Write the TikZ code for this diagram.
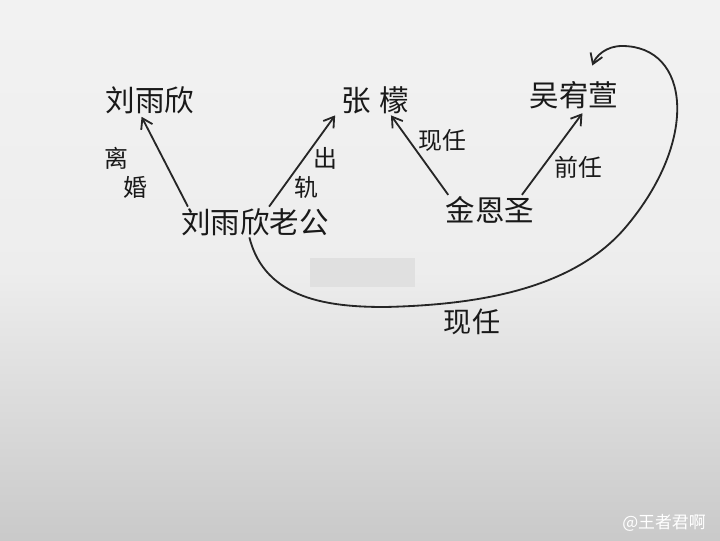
\documentclass[tikz,border=0pt]{standalone}
\usepackage{fontspec}
\setmainfont{Noto Sans CJK SC}
\usetikzlibrary{positioning,calc,arrows.meta}

\tikzset{
    person/.style={inner sep=1pt, font=\fontsize{21}{24}\selectfont, text=black!90},
    tag/.style={inner sep=1pt, font=\fontsize{17}{21}\selectfont, text=black!90},
    arr/.style={line width=1.3pt, draw=black!85, -{Straight Barb[length=7pt,width=9pt]}}
}

\begin{document}
\begin{tikzpicture}[x=0.025cm, y=-0.025cm]
    % paper
    \shade[top color=gray!10, bottom color=gray!42, middle color=gray!14] (0,0) rectangle (720,540);
    \useasboundingbox (0,0) rectangle (720,540);
    \fill[gray!24] (310,258) rectangle (415,287);

    % people
    \node[person] (lyx) at (150,100) {刘雨欣};
    \node[person] (zm) at (375,100) {张\hspace{0.3em}檬};
    \node[person] (wyx) at (574,95) {吴宥萱};
    \node[person] (husband) at (255,222) {刘雨欣老公};
    \node[person] (jes) at (490,210) {金恩圣};

    % relations
    \draw[arr] ([xshift=6pt]husband.north west) -- ([xshift=-6pt,yshift=-1pt]lyx.south);
    \draw[arr] ([xshift=10pt]husband.north) -- ([xshift=-3pt]zm.south west);
    \draw[arr] ([xshift=3pt]jes.north west) -- ([xshift=-14pt]zm.south east);
    \draw[arr] ([xshift=-10pt]jes.north east) -- ([xshift=6pt,yshift=-2pt]wyx.south);
    \draw[arr] ([xshift=-4pt]husband.south) .. controls (265,300) and (330,307) .. (385,307)
        .. controls (470,305) and (570,292) .. (625,228)
        .. controls (700,140) and (690,46) .. (622,46)
        .. controls (606,46) and (596,56) .. ([xshift=13pt,yshift=10pt]wyx.north);

    % labels
    \node[tag, align=left] (divorce) at (126,173) {离\\\hspace{0.8em}婚};
    \node[tag, align=left] (cheat) at (316,173) {\hspace{0.8em}出\\轨};
    \node[tag] (current1) at (442,140) {现任};
    \node[tag] (former) at (578,167) {前任};
    \node[tag, font=\fontsize{20}{24}\selectfont] (current2) at (472,322) {现任};

    % watermark
    \node[text=white, font=\fontsize{12}{14}\selectfont] (mark) at (664,523) {@王者君啊};
\end{tikzpicture}
\end{document}
